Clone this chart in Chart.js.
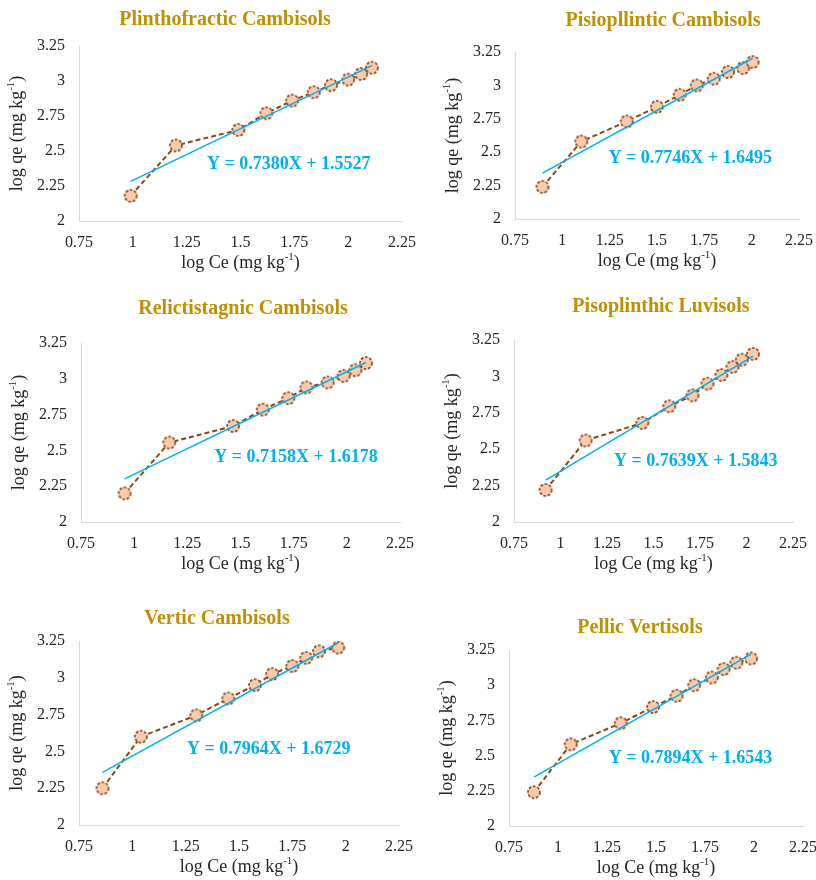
<!DOCTYPE html>
<html>
<head>
<meta charset="utf-8">
<script src="https://cdn.jsdelivr.net/npm/chart.js@4"></script>
<style>
  html, body { margin: 0; padding: 0; background: #fff; overflow: hidden; }
  #wrap { position: relative; width: 816px; height: 880px; }
  #wrap canvas { position: absolute; }
</style>
</head>
<body>
<div id="wrap"></div>
<script>
// panel titles and fitted equations
const titles = ['Plinthofractic Cambisols', 'Pisiopllintic Cambisols', 'Relictistagnic Cambisols',
                'Pisoplinthic Luvisols', 'Vertic Cambisols', 'Pellic Vertisols'];
const equations = ['Y = 0.7380X + 1.5527', 'Y = 0.7746X + 1.6495', 'Y = 0.7158X + 1.6178',
                   'Y = 0.7639X + 1.5843', 'Y = 0.7964X + 1.6729', 'Y = 0.7894X + 1.6543'];

// log Ce / log qe values
const plinthofracticCe = [0.99, 1.20, 1.49, 1.62, 1.74, 1.84, 1.92, 2.00, 2.06, 2.11];
const plinthofracticQe = [2.18, 2.54, 2.65, 2.77, 2.86, 2.92, 2.97, 3.01, 3.05, 3.095];
const pisiopllinticCe = [0.895, 1.10, 1.34, 1.50, 1.62, 1.71, 1.80, 1.875, 1.955, 2.005];
const pisiopllinticQe = [2.24, 2.58, 2.73, 2.84, 2.93, 3.00, 3.05, 3.10, 3.13, 3.175];
const relictistagnicCe = [0.955, 1.165, 1.465, 1.605, 1.725, 1.81, 1.91, 1.985, 2.04, 2.09];
const relictistagnicQe = [2.20, 2.555, 2.67, 2.785, 2.865, 2.94, 2.975, 3.02, 3.06, 3.11];
const pisoplinthicCe = [0.92, 1.135, 1.44, 1.585, 1.71, 1.79, 1.865, 1.925, 1.975, 2.035];
const pisoplinthicQe = [2.22, 2.56, 2.68, 2.795, 2.87, 2.95, 3.01, 3.065, 3.115, 3.155];
const verticCe = [0.86, 1.04, 1.30, 1.45, 1.575, 1.655, 1.75, 1.815, 1.875, 1.965];
const verticQe = [2.25, 2.60, 2.745, 2.86, 2.95, 3.025, 3.08, 3.135, 3.18, 3.205];
const pellicCe = [0.877, 1.065, 1.32, 1.485, 1.605, 1.695, 1.785, 1.845, 1.91, 1.985];
const pellicQe = [2.24, 2.58, 2.73, 2.845, 2.925, 3.00, 3.055, 3.115, 3.16, 3.19];

// trend line end points
const fitStartX = [0.99, 0.895, 0.955, 0.92, 0.86, 0.877];
const fitStartY = [2.283, 2.343, 2.301, 2.287, 2.358, 2.347];
const fitEndX = [2.11, 2.005, 2.09, 2.035, 1.965, 1.985];
const fitEndY = [3.110, 3.203, 3.114, 3.139, 3.238, 3.221];

// axis ticks
const xTicks = [0.75, 1, 1.25, 1.5, 1.75, 2, 2.25];
const yTicks = [2, 2.25, 2.5, 2.75, 3, 3.25];

const ceSeries = [plinthofracticCe, pisiopllinticCe, relictistagnicCe, pisoplinthicCe, verticCe, pellicCe];
const qeSeries = [plinthofracticQe, pisiopllinticQe, relictistagnicQe, pisoplinthicQe, verticQe, pellicQe];

// where each plot area sits on the page, title centre, equation anchor (data units)
const panelBoxes = [
  { l: 79,  t: 46,  r: 403, b: 221, tx: 225, ty: 18,  ex: 1.724, ey: 2.414 },
  { l: 515, t: 52,  r: 800, b: 219, tx: 663, ty: 19,  ex: 1.675, ey: 2.461 },
  { l: 81,  t: 343, r: 401, b: 522, tx: 243, ty: 307, ex: 1.761, ey: 2.459 },
  { l: 514, t: 340, r: 794, b: 522, tx: 661, ty: 305, ex: 1.727, ey: 2.423 },
  { l: 79,  t: 641, r: 400, b: 825, tx: 217, ty: 617, ex: 1.639, ey: 2.520 },
  { l: 509, t: 650, r: 804, b: 826, tx: 640, ty: 626, ex: 1.676, ey: 2.488 }
];

const SERIF = '"Liberation Serif", "Times New Roman", serif';
const Y_AXIS_W = 75, X_AXIS_H = 55, PAD_R = 25;

// dashed-outline marker
function makeMarker() {
  const c = document.createElement('canvas');
  c.width = 16; c.height = 16;
  const g = c.getContext('2d');
  g.beginPath();
  g.arc(8, 8, 6, 0, Math.PI * 2);
  g.fillStyle = '#F8CBAD';
  g.fill();
  g.setLineDash([2.8, 1.6]);
  g.lineWidth = 1.7;
  g.strokeStyle = '#8E4617';
  g.stroke();
  return c;
}
const marker = makeMarker();

function tickText(v) {
  return String(Math.round(v * 100) / 100);
}

// text with a "-1" superscript before the closing bracket
function drawSupText(ctx, x, y, base) {
  const mainFont = '18px ' + SERIF, supFont = '11px ' + SERIF;
  ctx.font = mainFont;
  const w1 = ctx.measureText(base).width;
  const w3 = ctx.measureText(')').width;
  ctx.font = supFont;
  const w2 = ctx.measureText('-1').width;
  let sx = x - (w1 + w2 + w3) / 2;
  ctx.textBaseline = 'middle';
  ctx.textAlign = 'left';
  ctx.font = mainFont;
  ctx.fillText(base, sx, y);
  sx += w1;
  ctx.font = supFont;
  ctx.fillText('-1', sx, y - 6);
  sx += w2;
  ctx.font = mainFont;
  ctx.fillText(')', sx, y);
}

const panelText = {
  id: 'panelText',
  afterDraw(chart, args, opts) {
    const ctx = chart.ctx;
    const area = chart.chartArea;
    ctx.save();
    // title
    ctx.fillStyle = '#BF9000';
    ctx.font = 'bold 20px ' + SERIF;
    ctx.textAlign = 'center';
    ctx.textBaseline = 'middle';
    ctx.fillText(opts.title, opts.titleX, opts.titleY + 2);
    // equation
    ctx.fillStyle = '#00B0F0';
    ctx.font = 'bold 18px ' + SERIF;
    ctx.fillText(opts.equation, chart.scales.x.getPixelForValue(opts.eqX), chart.scales.y.getPixelForValue(opts.eqY) + 1);
    // axis titles
    ctx.fillStyle = '#262626';
    drawSupText(ctx, (area.left + area.right) / 2, area.bottom + 42, 'log Ce (mg kg');
    ctx.translate(area.left - 62, (area.top + area.bottom) / 2);
    ctx.rotate(-Math.PI / 2);
    drawSupText(ctx, 0, 0, 'log qe (mg kg');
    ctx.restore();
  }
};

const wrap = document.getElementById('wrap');

panelBoxes.forEach(function(box, i) {
  const left = box.l - Y_AXIS_W;
  const top = box.ty - 18;
  const w = box.r - box.l + Y_AXIS_W + PAD_R;
  const h = box.b + X_AXIS_H - top;
  const canvas = document.createElement('canvas');
  canvas.width = w; canvas.height = h;
  canvas.style.left = left + 'px';
  canvas.style.top = top + 'px';
  canvas.style.width = w + 'px';
  canvas.style.height = h + 'px';
  wrap.appendChild(canvas);

  const points = ceSeries[i].map(function(x, k) { return { x: x, y: qeSeries[i][k] }; });
  const fit = [{ x: fitStartX[i], y: fitStartY[i] }, { x: fitEndX[i], y: fitEndY[i] }];

  new Chart(canvas.getContext('2d'), {
    type: 'scatter',
    data: {
      datasets: [
        {
          label: 'Linear fit',
          data: fit,
          showLine: true,
          borderColor: '#00B0F0',
          borderWidth: 1.5,
          pointRadius: 0
        },
        {
          label: titles[i],
          data: points,
          showLine: true,
          borderColor: '#8E4617',
          borderWidth: 2,
          borderDash: [5, 3],
          pointStyle: marker,
          pointRadius: 6
        }
      ]
    },
    options: {
      responsive: false,
      animation: false,
      devicePixelRatio: 1,
      layout: { padding: { left: 0, right: PAD_R, top: box.t - top, bottom: 0 } },
      plugins: {
        legend: { display: false },
        tooltip: { enabled: false },
        panelText: {
          title: titles[i],
          equation: equations[i],
          titleX: box.tx - left,
          titleY: box.ty - top,
          eqX: box.ex,
          eqY: box.ey
        }
      },
      scales: {
        x: {
          type: 'linear',
          min: xTicks[0],
          max: xTicks[xTicks.length - 1],
          afterFit: function(scale) { scale.height = X_AXIS_H; },
          afterBuildTicks: function(scale) { scale.ticks = xTicks.map(function(v) { return { value: v }; }); },
          grid: { display: false, drawTicks: false },
          border: { display: true, color: '#D9D9D9', width: 1 },
          ticks: { padding: 12, color: '#262626', font: { family: SERIF, size: 16 }, maxRotation: 0, autoSkip: false, callback: tickText }
        },
        y: {
          type: 'linear',
          min: yTicks[0],
          max: yTicks[yTicks.length - 1],
          afterFit: function(scale) { scale.width = Y_AXIS_W; },
          afterBuildTicks: function(scale) { scale.ticks = yTicks.map(function(v) { return { value: v }; }); },
          grid: { display: false, drawTicks: false },
          border: { display: true, color: '#D9D9D9', width: 1 },
          ticks: { padding: 14, color: '#262626', font: { family: SERIF, size: 16 }, autoSkip: false, callback: tickText }
        }
      }
    },
    plugins: [panelText]
  });
});
</script>
</body>
</html>
